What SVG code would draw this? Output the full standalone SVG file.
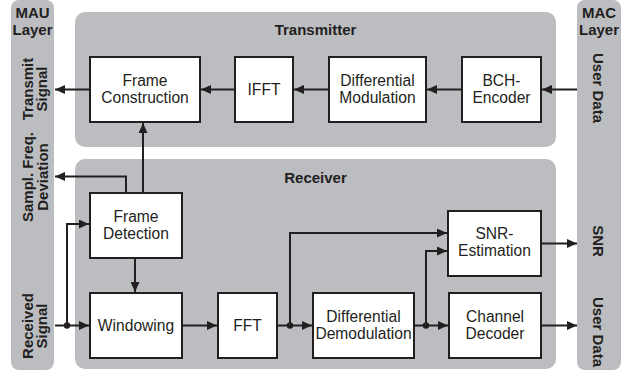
<svg xmlns="http://www.w3.org/2000/svg" width="633" height="374" viewBox="0 0 633 374">
<style>
.panel{fill:#bcbdc0}
.box{fill:#fff;stroke:#231f20;stroke-width:2}
.t{font-family:"Liberation Sans",Arial,sans-serif;font-size:15.6px;fill:#231f20;text-anchor:middle}
.b{font-family:"Liberation Sans",Arial,sans-serif;font-size:15px;font-weight:bold;fill:#231f20;text-anchor:middle}
.c{fill:none;stroke:#231f20;stroke-width:2}
</style>
<defs>
<marker id="ah" markerUnits="userSpaceOnUse" markerWidth="11" markerHeight="9" refX="10" refY="4.5" orient="auto">
<path d="M0,0 L10,4.5 L0,9 z" fill="#231f20"/>
</marker>
</defs>
<rect width="633" height="374" fill="#fff"/>
<g id="mau-layer">
<rect class="panel" x="11" y="0" width="43" height="370" rx="8"/>
<text class="b" x="32.5" y="18">MAU</text>
<text class="b" x="32.5" y="35">Layer</text>
<text class="b" transform="translate(33,89) rotate(-90)" x="0" y="0">Transmit</text>
<text class="b" transform="translate(47,89) rotate(-90)" x="0" y="0">Signal</text>
<text class="b" transform="translate(33,177) rotate(-90)" x="0" y="0">Sampl. Freq.</text>
<text class="b" transform="translate(48,177) rotate(-90)" x="0" y="0">Deviation</text>
<text class="b" transform="translate(33,326) rotate(-90)" x="0" y="0">Received</text>
<text class="b" transform="translate(47,326) rotate(-90)" x="0" y="0">Signal</text>
</g>
<g id="mac-layer">
<rect class="panel" x="577" y="0" width="44" height="370" rx="8"/>
<text class="b" x="599" y="18">MAC</text>
<text class="b" x="599" y="35">Layer</text>
<text class="b" transform="translate(592.5,88) rotate(90)" x="0" y="0">User Data</text>
<text class="b" transform="translate(592.5,241) rotate(90)" x="0" y="0">SNR</text>
<text class="b" transform="translate(592.5,332) rotate(90)" x="0" y="0">User Data</text>
</g>
<g id="transmitter">
<rect class="panel" x="75" y="12" width="481" height="135" rx="10"/>
<text class="b" x="315.5" y="35">Transmitter</text>
</g>
<g id="receiver">
<rect class="panel" x="75" y="159" width="481" height="210" rx="10"/>
<text class="b" x="315.5" y="183">Receiver</text>
</g>
<g id="frame-construction">
<rect class="box" x="90" y="57" width="110" height="65"/>
<text class="t" x="145" y="86">Frame</text>
<text class="t" x="145" y="103">Construction</text>
</g>
<g id="ifft">
<rect class="box" x="235" y="57" width="58" height="65"/>
<text class="t" x="264" y="95">IFFT</text>
</g>
<g id="differential-modulation">
<rect class="box" x="329" y="57" width="97" height="65"/>
<text class="t" x="377.5" y="86">Differential</text>
<text class="t" x="377.5" y="103">Modulation</text>
</g>
<g id="bch-encoder">
<rect class="box" x="462" y="57" width="79" height="65"/>
<text class="t" x="501.5" y="86">BCH-</text>
<text class="t" x="501.5" y="103">Encoder</text>
</g>
<g id="frame-detection">
<rect class="box" x="90" y="193" width="92" height="65"/>
<text class="t" x="136" y="222">Frame</text>
<text class="t" x="136" y="239">Detection</text>
</g>
<g id="windowing">
<rect class="box" x="90" y="293" width="92" height="65"/>
<text class="t" x="136" y="331">Windowing</text>
</g>
<g id="fft">
<rect class="box" x="218" y="293" width="59" height="65"/>
<text class="t" x="247.5" y="331">FFT</text>
</g>
<g id="differential-demodulation">
<rect class="box" x="313" y="293" width="101" height="65"/>
<text class="t" x="363.5" y="322">Differential</text>
<text class="t" x="363.5" y="339">Demodulation</text>
</g>
<g id="snr-estimation">
<rect class="box" x="448" y="211" width="93" height="65"/>
<text class="t" x="494.5" y="239">SNR-</text>
<text class="t" x="494.5" y="256">Estimation</text>
</g>
<g id="channel-decoder">
<rect class="box" x="449" y="293" width="92" height="65"/>
<text class="t" x="495" y="322">Channel</text>
<text class="t" x="495" y="339">Decoder</text>
</g>
<g id="connectors">
<line class="c" x1="577" y1="89.5" x2="542" y2="89.5" marker-end="url(#ah)"/>
<line class="c" x1="462" y1="89.5" x2="427" y2="89.5" marker-end="url(#ah)"/>
<line class="c" x1="329" y1="89.5" x2="294" y2="89.5" marker-end="url(#ah)"/>
<line class="c" x1="235" y1="89.5" x2="201" y2="89.5" marker-end="url(#ah)"/>
<line class="c" x1="90" y1="89.5" x2="55" y2="89.5" marker-end="url(#ah)"/>
<polyline class="c" points="143,193 143,123" marker-end="url(#ah)"/>
<polyline class="c" points="126,193 126,176.5 55,176.5" marker-end="url(#ah)"/>
<line class="c" x1="55" y1="325.5" x2="89" y2="325.5" marker-end="url(#ah)"/>
<polyline class="c" points="67,325.5 67,224 89,224" marker-end="url(#ah)"/>
<circle cx="67" cy="325.5" r="3.2" fill="#231f20"/>
<line class="c" x1="135" y1="258" x2="135" y2="292" marker-end="url(#ah)"/>
<line class="c" x1="182" y1="325.5" x2="217" y2="325.5" marker-end="url(#ah)"/>
<line class="c" x1="277" y1="325.5" x2="312" y2="325.5" marker-end="url(#ah)"/>
<polyline class="c" points="290,325.5 290,233 447,233" marker-end="url(#ah)"/>
<circle cx="290" cy="325.5" r="3.2" fill="#231f20"/>
<line class="c" x1="414" y1="325.5" x2="448" y2="325.5" marker-end="url(#ah)"/>
<polyline class="c" points="426,325.5 426,251 447,251" marker-end="url(#ah)"/>
<circle cx="426" cy="325.5" r="3.2" fill="#231f20"/>
<line class="c" x1="541" y1="243.5" x2="577" y2="243.5" marker-end="url(#ah)"/>
<line class="c" x1="541" y1="325.5" x2="577" y2="325.5" marker-end="url(#ah)"/>
</g>
</svg>
